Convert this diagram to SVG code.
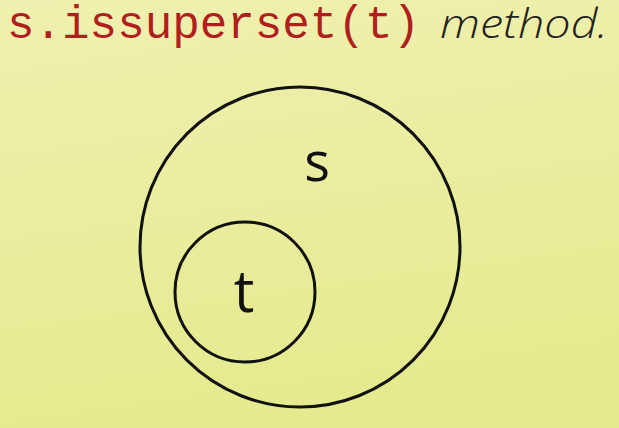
<svg xmlns="http://www.w3.org/2000/svg" width="619" height="428" viewBox="0 0 619 428">
  <defs>
    <linearGradient id="bg" x1="0" y1="0" x2="0.2" y2="1">
      <stop offset="0" stop-color="#f0f0b0"/>
      <stop offset="1" stop-color="#e5ea8e"/>
    </linearGradient>
    <style>
      .set { fill: none; stroke: #111; stroke-width: 3; }
      .lbl { font-family: "Open Sans", "Noto Sans", sans-serif; fill: #111; text-anchor: middle; }
      .code { font-family: "Liberation Mono", "DejaVu Sans Mono", monospace; fill: #b01e1e; font-size: 47px; }
      .hand { font-family: "Open Sans", "Liberation Sans", sans-serif; font-style: italic; font-weight: 300; fill: #222; font-size: 40px; }
    </style>
  </defs>
  <rect x="0" y="0" width="619" height="428" fill="url(#bg)"/>
  <g id="title">
    <text class="code" x="7" y="38" textLength="413" lengthAdjust="spacingAndGlyphs">s.issuperset(t)</text>
    <text class="hand" x="440" y="38" textLength="168" lengthAdjust="spacingAndGlyphs">method.</text>
  </g>
  <g id="node-s">
    <circle class="set" cx="300" cy="247" r="160"/>
    <text class="lbl" x="317" y="181" font-size="54">s</text>
  </g>
  <g id="node-t">
    <circle class="set" cx="245" cy="292" r="70"/>
    <text class="lbl" x="244" y="312" font-size="58">t</text>
  </g>
  <g id="connectors"/>
</svg>
